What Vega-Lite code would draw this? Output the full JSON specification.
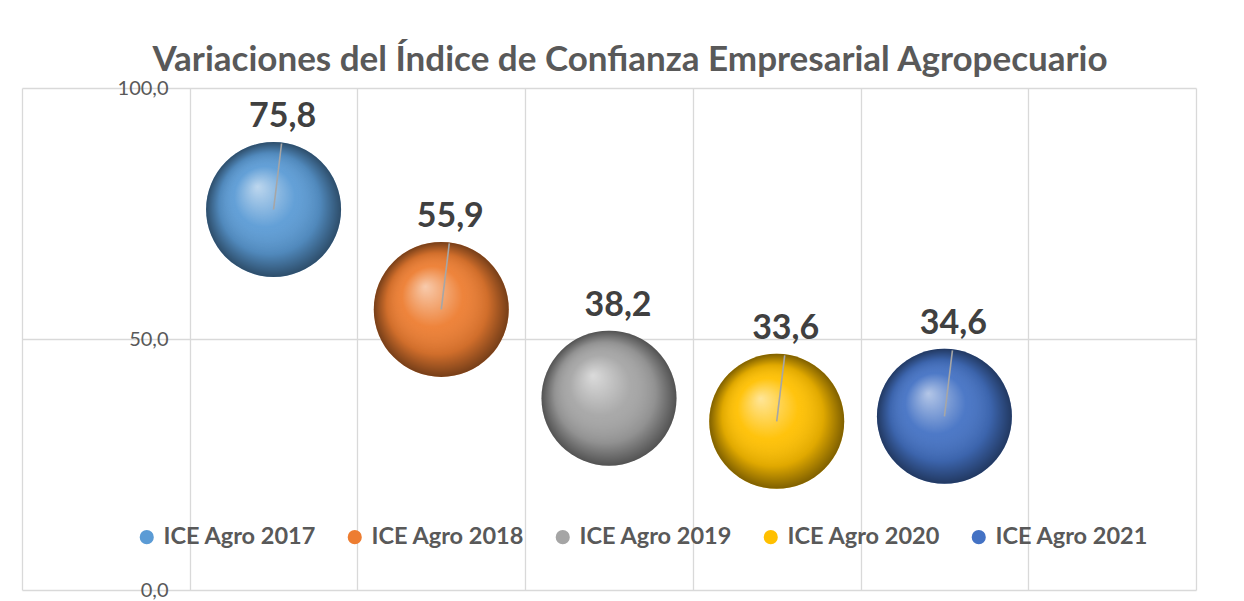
{
  "$schema": "https://vega.github.io/schema/vega-lite/v6.json",
  "width": 1174,
  "height": 502,
  "autosize": "none",
  "padding": {"left": 22, "top": 88, "right": 48, "bottom": 11},
  "background": "white",
  "title": {
    "text": "Variaciones del Índice de Confianza Empresarial Agropecuario",
    "font": "Lato",
    "fontSize": 35,
    "fontWeight": "bold",
    "color": "#595959",
    "anchor": "middle",
    "frame": "group",
    "dx": 21,
    "offset": 0
  },
  "config": {
    "locale": {"number": {"decimal": ",", "thousands": ".", "grouping": [3], "currency": ["", "€"]}},
    "view": {"stroke": null},
    "font": "Lato"
  },
  "data": {
    "values": [
      {"serie": "ICE Agro 2017", "idx": 1, "valor": 75.8},
      {"serie": "ICE Agro 2018", "idx": 2, "valor": 55.9},
      {"serie": "ICE Agro 2019", "idx": 3, "valor": 38.2},
      {"serie": "ICE Agro 2020", "idx": 4, "valor": 33.6},
      {"serie": "ICE Agro 2021", "idx": 5, "valor": 34.6}
    ]
  },
  "encoding": {
    "x": {
      "field": "idx",
      "type": "quantitative",
      "scale": {"domain": [-0.5, 6.5], "nice": false, "zero": false},
      "axis": {
        "title": null,
        "values": [-0.5, 0.5, 1.5, 2.5, 3.5, 4.5, 5.5, 6.5],
        "labels": false,
        "ticks": false,
        "domain": false,
        "grid": true,
        "gridColor": "#d9d9d9",
        "gridWidth": 1.3
      }
    },
    "y": {
      "field": "valor",
      "type": "quantitative",
      "scale": {"domain": [0, 100], "nice": false},
      "axis": {
        "title": null,
        "values": [0, 50, 100],
        "format": ".1f",
        "offset": -168,
        "domain": false,
        "ticks": false,
        "labelPadding": 22,
        "labelFont": "Lato",
        "labelFontSize": 20,
        "labelColor": "#595959",
        "grid": true,
        "gridColor": "#d9d9d9",
        "gridWidth": 1.3
      }
    }
  },
  "layer": [
    {
      "mark": {"type": "point", "shape": "circle", "filled": true, "opacity": 1, "size": 18225},
      "encoding": {
        "color": {
          "field": "serie",
          "type": "nominal",
          "scale": {
            "domain": ["ICE Agro 2017", "ICE Agro 2018", "ICE Agro 2019", "ICE Agro 2020", "ICE Agro 2021"],
            "range": ["#5b9bd5", "#ed7d31", "#a5a5a5", "#ffc000", "#4472c4"]
          },
          "legend": {
            "title": null,
            "orient": "none",
            "direction": "horizontal",
            "legendX": 113,
            "legendY": 437,
            "symbolType": "circle",
            "symbolSize": 200,
            "symbolStrokeWidth": 0,
            "symbolOpacity": 1,
            "labelFont": "Lato",
            "labelFontSize": 23.5,
            "labelFontWeight": "bold",
            "labelColor": "#595959",
            "labelOffset": 5,
            "labelLimit": 300,
            "columnPadding": 26,
            "gridAlign": "all"
          }
        }
      }
    },
    {
      "mark": {
        "type": "point",
        "shape": "circle",
        "filled": true,
        "opacity": 1,
        "size": 18225,
        "fill": {
          "gradient": "radial",
          "x1": 0.38, "y1": 0.33, "r1": 0,
          "x2": 0.5, "y2": 0.5, "r2": 0.5,
          "stops": [
            {"offset": 0, "color": "rgba(255,255,255,0.6)"},
            {"offset": 0.45, "color": "rgba(255,255,255,0.05)"},
            {"offset": 0.75, "color": "rgba(0,0,0,0.12)"},
            {"offset": 1, "color": "rgba(0,0,0,0.5)"}
          ]
        }
      },
      "encoding": {}
    },
    {
      "transform": [{"filter": "datum.serie != 'ICE Agro 2019'"}],
      "mark": {"type": "rule", "color": "#a6a6a6", "strokeWidth": 1.6, "x2Offset": 8, "y2Offset": -66},
      "encoding": {
        "x2": {"field": "idx"},
        "y2": {"field": "valor"}
      }
    },
    {
      "mark": {
        "type": "text",
        "font": "Lato",
        "fontSize": 34,
        "fontWeight": "bold",
        "color": "#404040",
        "dx": 9,
        "dy": -92,
        "baseline": "middle"
      },
      "encoding": {
        "text": {"field": "valor", "type": "quantitative", "format": ".1f"}
      }
    }
  ]
}
